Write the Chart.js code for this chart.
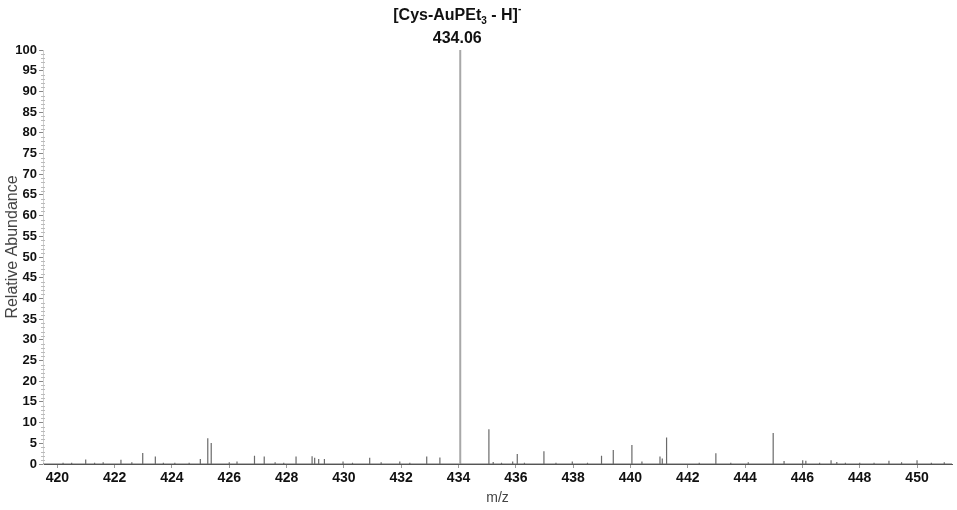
<!DOCTYPE html>
<html>
<head>
<meta charset="utf-8">
<script src="https://cdn.jsdelivr.net/npm/chart.js@4.4.1/dist/chart.umd.min.js"></script>
<style>
  html, body { margin: 0; padding: 0; background: #ffffff; }
  #wrap { width: 957px; height: 510px; position: relative; }
</style>
</head>
<body>
<div id="wrap"><canvas id="c" width="957" height="510"></canvas></div>
<script>
// m/z positions of the peaks and their relative abundances (%)
const peakMz = [
  420.20, 420.50, 420.99, 421.30, 421.60, 422.22, 422.60, 422.98, 423.42, 423.70,
  424.10, 424.60, 424.99, 425.25, 425.37, 426.00, 426.27, 426.88, 427.22, 427.60,
  427.90, 428.33, 428.89, 428.98, 429.12, 429.32, 429.97, 430.30, 430.90, 431.30,
  431.95, 432.30, 432.89, 433.35, 434.06, 435.06, 435.21, 435.50, 435.89, 436.05,
  436.30, 436.98, 437.40, 437.97, 438.50, 438.99, 439.40, 440.05, 440.40, 441.03,
  441.11, 441.26, 442.40, 442.98, 443.50, 444.11, 444.98, 445.36, 446.01, 446.12,
  446.60, 447.00, 447.20, 447.50, 448.00, 448.50, 449.02, 449.46, 450.00, 450.50,
  450.95
];
const peakAbundance = [
  0.3, 0.3, 1.1, 0.3, 0.4, 1.0, 0.4, 2.65, 1.8, 0.3,
  0.3, 0.3, 1.2, 6.2, 5.1, 0.4, 0.6, 2.0, 1.8, 0.4,
  0.3, 1.8, 1.9, 1.5, 1.2, 1.2, 0.6, 0.3, 1.5, 0.4,
  0.6, 0.3, 1.8, 1.6, 100, 8.4, 0.5, 0.3, 0.6, 2.4,
  0.3, 3.1, 0.3, 0.6, 0.3, 2.0, 3.4, 4.6, 0.6, 1.8,
  1.3, 6.4, 0.3, 2.6, 0.3, 0.4, 7.5, 0.7, 0.9, 0.8,
  0.3, 0.9, 0.5, 0.3, 0.3, 0.3, 0.8, 0.4, 0.9, 0.3,
  0.4
];
const xTickLabels = [420, 422, 424, 426, 428, 430, 432, 434, 436, 438, 440, 442, 444, 446, 448, 450];
const yTickLabels = [0, 5, 10, 15, 20, 25, 30, 35, 40, 45, 50, 55, 60, 65, 70, 75, 80, 85, 90, 95, 100];
const xRange = [419.5, 451.22];
const baseMz = 434.06;
const baseLabel = "434.06";
const yTitle = "Relative Abundance";

// stick spectrum: baseline -> peak top -> baseline for each peak
const order = peakMz.map((m, i) => i).sort((a, b) => peakMz[a] - peakMz[b]);
const stickData = [{x: xRange[0], y: 0}];
order.forEach(i => {
  stickData.push({x: peakMz[i], y: 0});
  stickData.push({x: peakMz[i], y: peakAbundance[i]});
  stickData.push({x: peakMz[i], y: 0});
});
stickData.push({x: xRange[1], y: 0});

const FONT = "'Liberation Sans', Arial, sans-serif";

const peakLabelPlugin = {
  id: 'peakLabel',
  afterDraw(chart) {
    const ctx = chart.ctx;
    const xs = chart.scales.x;
    const px = xs.getPixelForValue(baseMz) - 3;
    ctx.save();
    ctx.fillStyle = '#111';
    ctx.textBaseline = 'alphabetic';
    const big = "bold 16px " + FONT;
    const small = "bold 10px " + FONT;
    const parts = [
      {t: "[Cys-AuPEt", f: big, dy: 0},
      {t: "3", f: small, dy: 4},
      {t: " - H]", f: big, dy: 0},
      {t: "-", f: small, dy: -8}
    ];
    let total = 0;
    parts.forEach(p => { ctx.font = p.f; p.w = ctx.measureText(p.t).width; total += p.w; });
    let x = px - total / 2;
    ctx.textAlign = 'left';
    parts.forEach(p => { ctx.font = p.f; ctx.fillText(p.t, x, 20 + p.dy); x += p.w; });
    ctx.font = "bold 16px " + FONT;
    ctx.textAlign = 'center';
    ctx.fillText(baseLabel, px, 43);

    // y-axis title
    ctx.save();
    ctx.translate(13, 247);
    ctx.rotate(-Math.PI / 2);
    ctx.font = "16px " + FONT;
    ctx.fillStyle = '#444';
    ctx.textAlign = 'center';
    ctx.textBaseline = 'middle';
    ctx.fillText(yTitle, 0, 0);
    ctx.restore();
    ctx.restore();
  }
};

const minorTickPlugin = {
  id: 'minorTicks',
  afterDraw(chart) {
    const ctx = chart.ctx;
    const ys = chart.scales.y;
    const left = chart.chartArea.left;
    ctx.save();
    ctx.strokeStyle = '#bbbbbb';
    ctx.lineWidth = 1;
    for (let v = 0; v <= 100; v += 1) {
      if (v % 5 === 0) continue;
      const py = Math.round(ys.getPixelForValue(v)) + 0.5;
      ctx.beginPath();
      ctx.moveTo(left - 2, py);
      ctx.lineTo(left + 2, py);
      ctx.stroke();
    }
    ctx.restore();
  }
};

new Chart(document.getElementById('c'), {
  type: 'scatter',
  data: {
    datasets: [{
      data: stickData,
      showLine: true,
      pointRadius: 0,
      borderWidth: 1.2,
      borderColor: '#6a6a6a',
      segment: {
        borderColor: ctx => (ctx.p0.parsed.y > 50 || ctx.p1.parsed.y > 50) ? '#a8a8a8' : '#6a6a6a',
        borderWidth: ctx => (ctx.p0.parsed.y > 50 || ctx.p1.parsed.y > 50) ? 2 : 1.2
      },
      tension: 0
    }]
  },
  options: {
    responsive: false,
    animation: false,
    devicePixelRatio: 1,
    layout: { padding: { top: 50, right: 5, left: 0, bottom: 0 } },
    plugins: { legend: { display: false }, tooltip: { enabled: false } },
    scales: {
      x: {
        type: 'linear',
        min: xRange[0],
        max: xRange[1],
        afterFit(s) { s.height = 46; },
        afterBuildTicks(s) { s.ticks = xTickLabels.map(v => ({value: v})); },
        ticks: {
          color: '#111',
          font: { family: FONT, size: 14, weight: 'bold' },
          padding: 2,
          maxRotation: 0,
          autoSkip: false,
          callback: v => String(v)
        },
        grid: { drawOnChartArea: false, drawTicks: true, tickLength: 4, color: '#999' },
        border: { display: true, color: '#555' },
        title: {
          display: true,
          text: 'm/z',
          color: '#444',
          font: { family: FONT, size: 14 },
          padding: { top: 0, bottom: 3 }
        }
      },
      y: {
        min: 0,
        max: 100,
        afterFit(s) { s.width = 43; },
        afterBuildTicks(s) { s.ticks = yTickLabels.map(v => ({value: v})); },
        ticks: {
          color: '#111',
          font: { family: FONT, size: 13, weight: 'bold' },
          padding: 2,
          autoSkip: false,
          callback: v => String(v)
        },
        grid: { drawOnChartArea: false, drawTicks: true, tickLength: 4, color: '#888' },
        border: { display: true, color: '#d0d0d0' },
        title: { display: false }
      }
    }
  },
  plugins: [peakLabelPlugin, minorTickPlugin]
});
</script>
</body>
</html>
